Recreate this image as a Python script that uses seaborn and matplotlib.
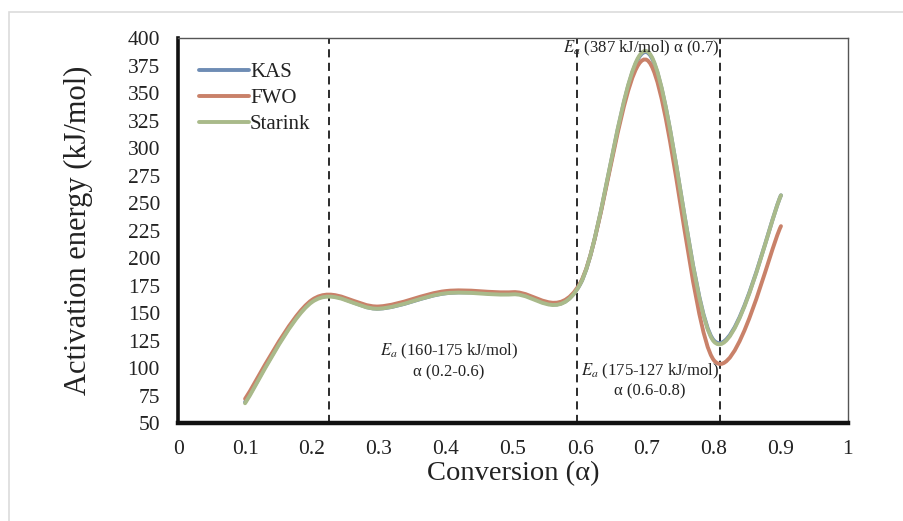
import numpy as np
import pandas as pd
import matplotlib
matplotlib.use('Agg')
import matplotlib.pyplot as plt
import seaborn as sns
from matplotlib.path import Path
from matplotlib.patches import PathPatch, Rectangle
from matplotlib.lines import Line2D

# values
conversion = [0.1, 0.2, 0.3, 0.4, 0.5, 0.6, 0.7, 0.8, 0.9]
kas = [69, 161, 154, 168, 168, 176, 387, 125, 257]
fwo = [72, 162, 156, 170, 169, 177, 380, 107, 229]
starink = [68, 160, 154, 168, 167, 176, 388, 124, 257]
series_names = ['KAS', 'FWO', 'Starink']
series_colors = ['#6E8CB4', '#C98169', '#A9BA8A']
divider_x = [0.225, 0.596, 0.809]

df = pd.DataFrame({'Conversion': conversion, 'KAS': kas, 'FWO': fwo, 'Starink': starink})


def smooth_path(xs, ys, k=1 / 6):
    """Excel-like smoothed line: cubic Bezier segments through the points."""
    pts = np.column_stack([xs, ys]).astype(float)
    n = len(pts)
    verts = [pts[0]]
    codes = [Path.MOVETO]
    for i in range(n - 1):
        p0 = pts[max(i - 1, 0)]
        p1 = pts[i]
        p2 = pts[i + 1]
        p3 = pts[min(i + 2, n - 1)]
        verts += [p1 + (p2 - p0) * k, p2 - (p3 - p1) * k, p2]
        codes += [Path.CURVE4] * 3
    return Path(verts, codes)


sns.set_theme(style='white')
plt.rcParams['font.family'] = ['Liberation Serif', 'DejaVu Serif']
plt.rcParams['mathtext.fontset'] = 'stix'

fig = plt.figure(figsize=(9.04, 5.21), dpi=100)
ax = fig.add_axes([0.197, 0.188, 0.741, 0.739])

# light outer frame like the source image
fig.patches.append(Rectangle((9 / 904, -0.1), 1.2, 1.1 - 12 / 521,
                             transform=fig.transFigure, fill=False,
                             edgecolor='#dcdcdc', lw=1.2))

palette = sns.color_palette(series_colors)
handles = []
for name, color in zip(series_names, palette):
    patch = PathPatch(smooth_path(df['Conversion'], df[name]), facecolor='none',
                      edgecolor=color, lw=2.8, capstyle='round', zorder=3)
    ax.add_patch(patch)
    handles.append(Line2D([], [], color=color, lw=2.8, solid_capstyle='round'))

for xv in divider_x:
    ax.axvline(xv, color='#1a1a1a', lw=1.3, ls=(0, (4.5, 3)), zorder=2)

ax.set_xlim(0, 1)
ax.set_ylim(50, 400)
ax.set_xticks(np.arange(0, 1.01, 0.1))
ax.set_xticklabels(['0', '0.1', '0.2', '0.3', '0.4', '0.5', '0.6', '0.7', '0.8', '0.9', '1'])
ax.set_yticks(np.arange(50, 401, 25))
ax.tick_params(axis='both', length=0, labelsize=15.5, colors='#222222')
ax.tick_params(axis='y', pad=13)
ax.tick_params(axis='x', pad=12)

for side in ['top', 'right']:
    ax.spines[side].set_color('#555555')
    ax.spines[side].set_linewidth(1.0)
ax.spines['left'].set_color('#111111')
ax.spines['left'].set_linewidth(2.6)
ax.spines['bottom'].set_color('#111111')
ax.spines['bottom'].set_linewidth(3.2)

ax.set_xlabel('Conversion (α)', fontsize=20.5, color='#222222', labelpad=2)
ax.set_ylabel('Activation energy (kJ/mol)', fontsize=22, color='#222222', labelpad=25)

leg = ax.legend(handles, series_names, loc='upper left', bbox_to_anchor=(0.0, 0.99),
                frameon=False, fontsize=15, handlelength=2.4, handletextpad=0.05,
                labelspacing=0.3, borderaxespad=0.6)
for t in leg.get_texts():
    t.set_color('#222222')

ax.text(0.404, 115, '$E_a$ (160-175 kJ/mol)', ha='center', va='center', fontsize=12, color='#222222')
ax.text(0.404, 96, 'α (0.2-0.6)', ha='center', va='center', fontsize=12, color='#222222')
ax.text(0.704, 97, '$E_a$ (175-127 kJ/mol)', ha='center', va='center', fontsize=12, color='#222222')
ax.text(0.704, 79, 'α (0.6-0.8)', ha='center', va='center', fontsize=12, color='#222222')
ax.text(0.692, 391, '$E_a$ (387 kJ/mol) α (0.7)', ha='center', va='center', fontsize=12,
        color='#222222', zorder=4)

fig.savefig('out.png', dpi=100)
